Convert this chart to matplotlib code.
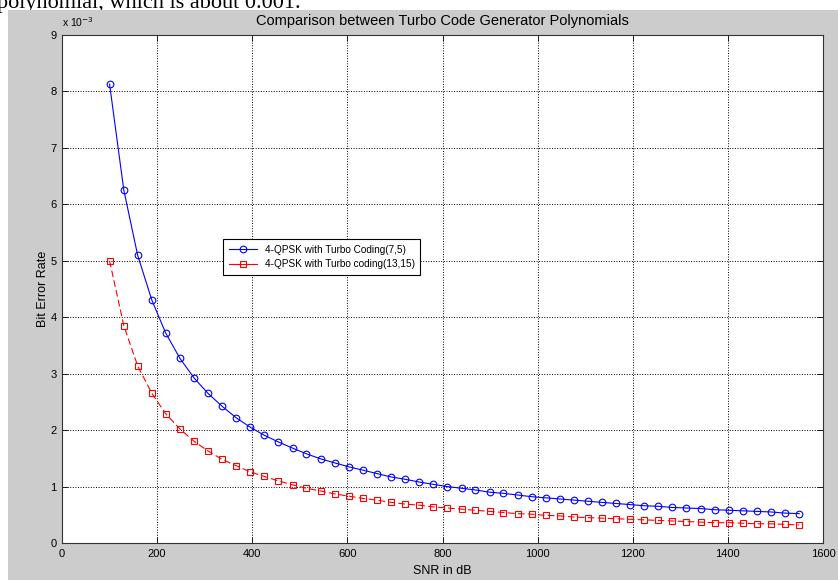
import matplotlib.pyplot as plt
from matplotlib.patches import Rectangle

# SNR values (x), roughly evenly spaced from 100 to 1550
snr = [100, 130, 159, 189, 218, 248, 278, 307, 337, 366,
       396, 425, 455, 485, 514, 544, 573, 603, 633, 662,
       692, 721, 751, 780, 810, 840, 869, 899, 928, 958,
       988, 1017, 1047, 1076, 1106, 1135, 1165, 1195, 1224, 1254,
       1283, 1313, 1343, 1372, 1402, 1431, 1461, 1490, 1520, 1550]

# BER in units of 1e-3
ber_7_5 = [8.13, 6.25, 5.10, 4.30, 3.72, 3.27, 2.92, 2.65, 2.42, 2.22,
           2.05, 1.91, 1.79, 1.68, 1.58, 1.49, 1.42, 1.35, 1.29, 1.23,
           1.17, 1.13, 1.08, 1.04, 1.00, 0.97, 0.94, 0.90, 0.88, 0.85,
           0.82, 0.80, 0.78, 0.76, 0.74, 0.72, 0.70, 0.68, 0.66, 0.65,
           0.63, 0.62, 0.61, 0.59, 0.58, 0.57, 0.56, 0.55, 0.53, 0.52]

ber_13_15 = [5.00, 3.85, 3.14, 2.65, 2.29, 2.02, 1.80, 1.63, 1.48, 1.37,
             1.26, 1.18, 1.10, 1.03, 0.97, 0.92, 0.87, 0.83, 0.79, 0.76,
             0.72, 0.69, 0.67, 0.64, 0.62, 0.60, 0.58, 0.56, 0.54, 0.52,
             0.51, 0.49, 0.48, 0.46, 0.45, 0.44, 0.43, 0.42, 0.41, 0.40,
             0.39, 0.38, 0.37, 0.36, 0.36, 0.35, 0.34, 0.34, 0.33, 0.32]

xticks = [0, 200, 400, 600, 800, 1000, 1200, 1400, 1600]
yticks = [0, 1, 2, 3, 4, 5, 6, 7, 8, 9]

sans = ['Liberation Sans Narrow', 'Liberation Sans', 'DejaVu Sans']
plt.rcParams['font.family'] = sans

fig = plt.figure(figsize=(8.38, 5.8), dpi=100)
fig.patch.set_facecolor('white')

# cut-off line of document text above the figure window
fig.text(-0.004, 0.986, 'polynomial, which is about 0.001.',
         family=['Liberation Serif', 'DejaVu Serif'], fontsize=16,
         va='baseline', ha='left', zorder=0)
# grey matlab figure background
fig.patches.append(Rectangle((8 / 838, 0), 1 - 8 / 838, 570 / 580,
                             transform=fig.transFigure, facecolor='#cccccc',
                             edgecolor='none', zorder=1))

ax = fig.add_axes([62 / 838, 1 - 543 / 580, (823 - 62) / 838, (543 - 35) / 580])
ax.set_zorder(2)
ax.set_facecolor('white')

ax.plot(snr, ber_7_5, color='blue', marker='o', markersize=4.8,
        markerfacecolor='none', markeredgewidth=0.8, linewidth=0.8,
        label='4-QPSK with Turbo Coding(7,5)')
ax.plot(snr, ber_13_15, color='red', marker='s', markersize=4.8,
        markerfacecolor='none', markeredgewidth=0.8, linewidth=0.8,
        linestyle=(0, (6, 3)), label='4-QPSK with Turbo coding(13,15)')

ax.set_xlim(0, 1600)
ax.set_ylim(0, 9)
ax.set_xticks(xticks)
ax.set_yticks(yticks)
ax.tick_params(direction='in', length=4, width=0.6, top=True, right=True,
               labelsize=8, pad=4)
ax.grid(True, linestyle=':', color='black', linewidth=0.7)
for s in ax.spines.values():
    s.set_linewidth(0.8)
    s.set_color('#333333')

ax.set_title('Comparison between Turbo Code Generator Polynomials',
             fontsize=10.5, pad=7)
ax.set_xlabel('SNR in dB', fontsize=9, labelpad=5)
ax.set_ylabel('Bit Error Rate', fontsize=9, labelpad=1)
ax.text(0.0, 1.012, 'x 10$^{-3}$', transform=ax.transAxes, fontsize=7.5,
        va='bottom', ha='left')

leg = ax.legend(loc='upper left', bbox_to_anchor=(0.2116, 0.598), fontsize=7.2,
                fancybox=False, framealpha=1, edgecolor='black',
                handlelength=2.8, borderaxespad=0, borderpad=0.55,
                labelspacing=0.45)
leg.get_frame().set_linewidth(0.8)
leg.get_lines()[1].set_linestyle('-')

fig.savefig('out.png', dpi=100)
